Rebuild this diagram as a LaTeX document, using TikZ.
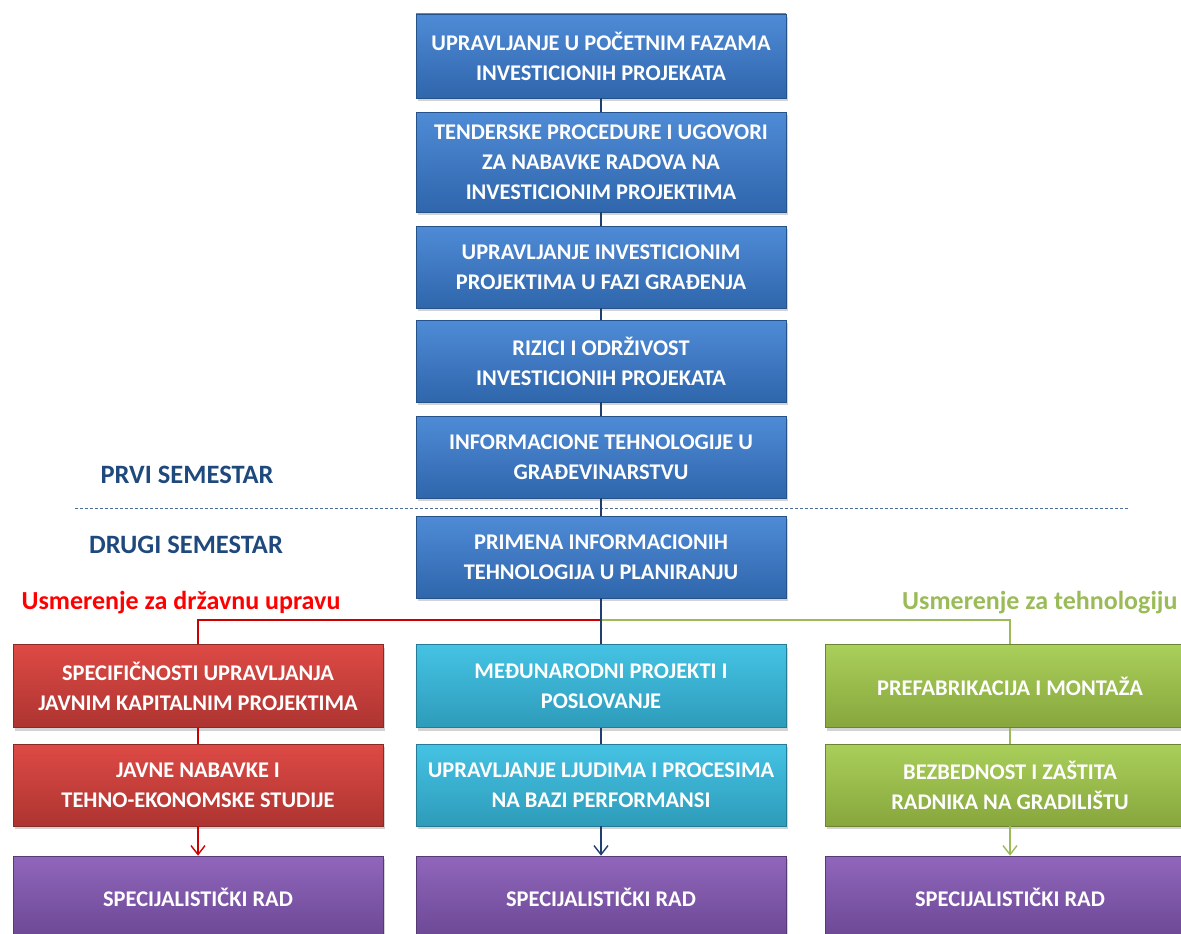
\documentclass[tikz,border=0pt]{standalone}
\usepackage{fontspec}
\setmainfont{Carlito}
\usepackage{tikz}
\usetikzlibrary{shapes,arrows,arrows.meta,positioning,calc,shadows}

\definecolor{plavaG}{HTML}{4F8BD6}
\definecolor{plavaD}{HTML}{2F66AC}
\definecolor{crvenaG}{HTML}{DE4A45}
\definecolor{crvenaD}{HTML}{AD3431}
\definecolor{cijanG}{HTML}{45C3E4}
\definecolor{cijanD}{HTML}{2E9BBA}
\definecolor{zelenaG}{HTML}{AACF5A}
\definecolor{zelenaD}{HTML}{87A63D}
\definecolor{ljubG}{HTML}{9066BC}
\definecolor{ljubD}{HTML}{6C4894}
\definecolor{tamnoplava}{HTML}{1F3F6E}
\definecolor{naslov}{HTML}{1F497D}
\definecolor{zelenTekst}{HTML}{9BBB59}

\begin{document}
\begin{tikzpicture}[
    x=1pt, y=-1pt,
    blok/.style={rectangle, minimum width=370pt, minimum height=82pt, align=center, text=white,
        font=\bfseries\fontsize{22.4}{30}\selectfont, line width=0.6pt,
        drop shadow={shadow xshift=2pt, shadow yshift=-3pt, opacity=0.35}},
    plavi/.style={blok, draw=plavaD!80!black, top color=plavaG, bottom color=plavaD},
    crveni/.style={blok, draw=crvenaD!80!black, top color=crvenaG, bottom color=crvenaD},
    cijan/.style={blok, draw=cijanD!80!black, top color=cijanG, bottom color=cijanD},
    zeleni/.style={blok, draw=zelenaD!80!black, top color=zelenaG, bottom color=zelenaD},
    ljubicasti/.style={blok, draw=ljubD!80!black, top color=ljubG, bottom color=ljubD},
    semestar/.style={font=\bfseries\fontsize{26.5}{30}\selectfont, text=naslov},
    usmerenje/.style={font=\bfseries\fontsize{26}{30}\selectfont},
    veza/.style={line width=1.6pt},
    strelica/.style={veza, -{Straight Barb[length=9pt,width=14pt,line width=1.4pt]}}
]
\useasboundingbox (0,0) rectangle (1181,934);

% Prvi semestar
\node[plavi, minimum height=84pt] (pocetne) at (601,56) {UPRAVLJANJE U POČETNIM FAZAMA\\INVESTICIONIH PROJEKATA};
\node[plavi, minimum height=100pt] (tender) at (601,162) {TENDERSKE PROCEDURE I UGOVORI\\ZA NABAVKE RADOVA NA\\INVESTICIONIM PROJEKTIMA};
\node[plavi] (gradjenje) at (601,267) {UPRAVLJANJE INVESTICIONIM\\PROJEKTIMA U FAZI GRAĐENJA};
\node[plavi] (rizici) at (601,361) {RIZICI I ODRŽIVOST\\INVESTICIONIH PROJEKATA};
\node[plavi] (infotech) at (601,457) {INFORMACIONE TEHNOLOGIJE U\\GRAĐEVINARSTVU};

% Drugi semestar
\node[plavi] (primena) at (601,557) {PRIMENA INFORMACIONIH\\TEHNOLOGIJA U PLANIRANJU};

\node[semestar] (prvi) at (187,475) {PRVI SEMESTAR};
\node[semestar] (drugi) at (186,545) {DRUGI SEMESTAR};
\draw[dashed, naslov!80, line width=0.8pt, dash pattern=on 3pt off 2pt] (75,508) -- (1128,508);

% Usmerenja
\node[usmerenje, text=red] (drzavna) at (181,603) {Usmerenje za državnu upravu};
\node[usmerenje, text=zelenTekst, anchor=east] (tehno) at (1181,603) {Usmerenje za tehnologiju};

\node[crveni, minimum height=83pt] (specif) at (198,686) {SPECIFIČNOSTI UPRAVLJANJA\\JAVNIM KAPITALNIM PROJEKTIMA};
\node[crveni] (javne) at (198,785) {JAVNE NABAVKE I\\TEHNO-EKONOMSKE STUDIJE};
\node[ljubicasti] (rad1) at (198,897) {SPECIJALISTIČKI RAD};

\node[cijan, minimum height=83pt] (medjunar) at (601,686) {MEĐUNARODNI PROJEKTI I\\POSLOVANJE};
\node[cijan] (ljudi) at (601,785) {UPRAVLJANJE LJUDIMA I PROCESIMA\\NA BAZI PERFORMANSI};
\node[ljubicasti] (rad2) at (601,897) {SPECIJALISTIČKI RAD};

\node[zeleni, minimum height=83pt] (prefab) at (1010,686) {PREFABRIKACIJA I MONTAŽA};
\node[zeleni] (bezbed) at (1010,785) {BEZBEDNOST I ZAŠTITA\\RADNIKA NA GRADILIŠTU};
\node[ljubicasti] (rad3) at (1010,897) {SPECIJALISTIČKI RAD};

% Veze
\coordinate (grana) at (601,620);
\draw[veza, tamnoplava] (pocetne) -- (tender);
\draw[veza, tamnoplava] (tender) -- (gradjenje);
\draw[veza, tamnoplava] (gradjenje) -- (rizici);
\draw[veza, tamnoplava] (rizici) -- (infotech);
\draw[veza, tamnoplava] (infotech) -- (primena);
\draw[veza, red!80!black] (grana) -| (specif.north);
\draw[veza, zelenTekst] (grana) -| (prefab.north);
\draw[veza, tamnoplava] (primena) -- (medjunar);
\draw[veza, tamnoplava] (medjunar) -- (ljudi);
\draw[veza, red!80!black] (specif) -- (javne);
\draw[veza, zelenTekst] (prefab) -- (bezbed);
\draw[strelica, red!80!black] (javne) -- (rad1);
\draw[strelica, tamnoplava] (ljudi) -- (rad2);
\draw[strelica, zelenTekst] (bezbed) -- (rad3);

\end{tikzpicture}
\end{document}
